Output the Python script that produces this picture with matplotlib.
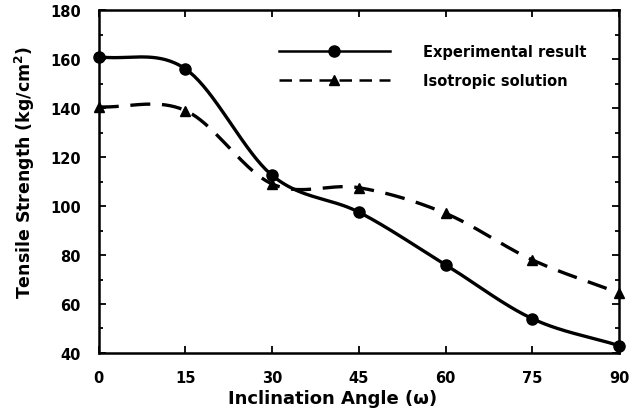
import numpy as np
import matplotlib
matplotlib.use('Agg')
import matplotlib.pyplot as plt
from matplotlib.ticker import MultipleLocator

angles = [0, 15, 30, 45, 60, 75, 90]
experimental = [161, 156, 112.5, 97.5, 76, 54, 43]
isotropic = [140.5, 139, 109, 107.5, 97, 78, 64.5]


def smooth(x, y, n=40):
    """Catmull-Rom smoothing, like a spreadsheet 'smoothed line'."""
    x = np.asarray(x, float)
    y = np.asarray(y, float)
    px = np.concatenate([[2 * x[0] - x[1]], x, [2 * x[-1] - x[-2]]])
    py = np.concatenate([[2 * y[0] - y[1]], y, [2 * y[-1] - y[-2]]])
    t = np.linspace(0, 1, n)
    xs, ys = [], []
    for i in range(1, len(px) - 2):
        for p, out in ((px, xs), (py, ys)):
            p0, p1, p2, p3 = p[i - 1], p[i], p[i + 1], p[i + 2]
            out.append(0.5 * (2 * p1 + (p2 - p0) * t
                              + (2 * p0 - 5 * p1 + 4 * p2 - p3) * t ** 2
                              + (-p0 + 3 * p1 - 3 * p2 + p3) * t ** 3))
    return np.concatenate(xs), np.concatenate(ys)


plt.rcParams['font.family'] = ['DejaVu Sans']
plt.rcParams['font.weight'] = 'bold'

fig = plt.figure(figsize=(6.33, 4.14), dpi=100)
ax = fig.add_axes([0.156, 0.145, 0.822, 0.828])

sx, sy = smooth(angles, experimental)
ax.plot(sx, sy, color='black', lw=2.4, zorder=3)
ax.plot(angles, experimental, 'o', color='black', ms=8, clip_on=False, zorder=4)

ix, iy = smooth(angles, isotropic)
ax.plot(ix, iy, color='black', lw=2.4, dashes=(6, 3.5), zorder=3)
ax.plot(angles, isotropic, '^', color='black', ms=7, clip_on=False, zorder=4)

# legend handles
h1, = ax.plot([], [], '-o', color='black', lw=1.8, ms=8)
h2, = ax.plot([], [], '^', color='black', lw=1.8, ms=7, ls=(0, (5, 3)))
ax.legend([h1, h2], ['Experimental result', 'Isotropic solution'],
          loc='upper right', bbox_to_anchor=(0.963, 0.94), frameon=False,
          handlelength=7.6, handletextpad=2.3, labelspacing=0.95,
          prop={'weight': 'bold', 'size': 10.5})

ax.set_xlim(0, 90)
ax.set_ylim(40, 180)
ax.xaxis.set_major_locator(MultipleLocator(15))
ax.yaxis.set_major_locator(MultipleLocator(20))
ax.yaxis.set_minor_locator(MultipleLocator(10))
ax.tick_params(which='both', direction='in', top=True, right=True,
               labelsize=10.5, width=1.3)
ax.tick_params(which='major', length=5)
ax.tick_params(axis='x', which='major', pad=12)
ax.tick_params(axis='y', which='major', pad=13)
ax.tick_params(which='minor', length=3)
for s in ax.spines.values():
    s.set_linewidth(1.8)

ax.set_xlabel('Inclination Angle (\u03c9)', fontsize=13, fontweight='bold')
ax.set_ylabel('Tensile Strength (kg/cm$^\\mathbf{2}$)', fontsize=12.5,
              fontweight='bold')
ax.xaxis.set_label_coords(0.45, -0.105)
ax.yaxis.set_label_coords(-0.118, 0.53)

fig.savefig('out.png', dpi=100)
